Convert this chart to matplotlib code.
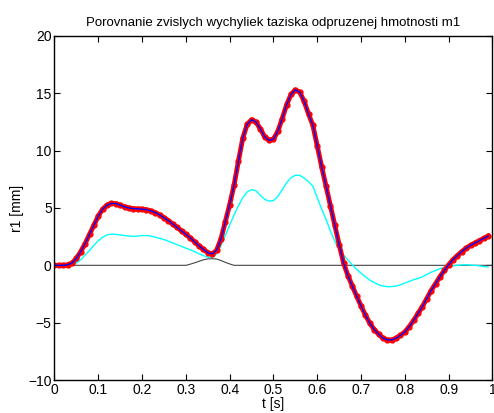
import matplotlib
matplotlib.use("Agg")
import matplotlib.pyplot as plt
import numpy as np

# time axis of the simulation (s)
t = np.arange(100) / 100

# r1 response, reference model (red dots + blue line)
r1_ref = [
    0.0, 0.0, 0.0, 0.05, 0.2, 0.6, 1.2, 1.9, 2.7, 3.5,
    4.3, 4.9, 5.25, 5.4, 5.38, 5.25, 5.1, 5.0, 4.95, 4.92,
    4.9, 4.85, 4.75, 4.6, 4.4, 4.15, 3.9, 3.6, 3.3, 3.0,
    2.7, 2.4, 2.05, 1.7, 1.4, 1.1, 1.0, 1.3, 2.3, 3.8,
    5.3, 7.0, 9.1, 11.1, 12.3, 12.7, 12.5, 11.9, 11.2, 10.9,
    11.0, 11.7, 12.8, 14.0, 14.9, 15.3, 15.1, 14.3, 13.2, 12.2,
    10.4, 8.6, 6.9, 5.2, 3.5, 1.8, 0.2, -0.9, -1.8, -2.7,
    -3.55, -4.35, -5.05, -5.6, -6.0, -6.35, -6.5, -6.5, -6.35, -6.1,
    -5.8, -5.35, -4.8, -4.2, -3.6, -2.9, -2.2, -1.6, -1.0, -0.45,
    0.05, 0.5, 0.85, 1.2, 1.5, 1.75, 1.95, 2.15, 2.35, 2.55,
]

# r1 response, second model (cyan)
r1_alt = [
    0.0, 0.0, 0.0, 0.0, 0.05, 0.2, 0.5, 0.9, 1.3, 1.75,
    2.15, 2.45, 2.65, 2.72, 2.7, 2.65, 2.6, 2.55, 2.52, 2.55,
    2.6, 2.6, 2.55, 2.45, 2.35, 2.25, 2.1, 1.95, 1.8, 1.65,
    1.5, 1.35, 1.2, 1.0, 0.85, 0.7, 0.7, 1.0, 1.7, 2.6,
    3.5, 4.4, 5.2, 5.9, 6.4, 6.6, 6.5, 6.1, 5.75, 5.6,
    5.65, 6.0, 6.6, 7.2, 7.65, 7.85, 7.85, 7.6, 7.3, 6.9,
    5.9, 4.9, 4.0, 3.0, 2.1, 1.4, 0.9, 0.45, 0.05, -0.35,
    -0.7, -1.0, -1.3, -1.5, -1.7, -1.8, -1.87, -1.85, -1.8, -1.7,
    -1.55, -1.4, -1.25, -1.15, -1.0, -0.8, -0.6, -0.45, -0.3, -0.2,
    -0.1, -0.05, 0.0, 0.03, 0.05, 0.02, 0.0, -0.05, -0.1, -0.15,
]

# road bump profile (black)
t_road = np.arange(101) / 100
road = np.zeros(101)
bump_idx = [30, 31, 32, 33, 34, 35, 36, 37, 38, 39, 40, 41]
bump_val = [0.0, 0.1, 0.22, 0.35, 0.48, 0.56, 0.58, 0.55, 0.42, 0.26, 0.12, 0.0]
road[bump_idx] = bump_val


def main():
    plt.rcParams['font.family'] = ['Liberation Sans', 'DejaVu Sans']
    fig = plt.figure(figsize=(4.94, 4.13), dpi=100)
    ax = fig.add_axes([0.1103, 0.0799, 0.8866, 0.833])

    ax.plot(t_road, road, color='#444444', lw=0.8)
    ax.plot(t, r1_alt, color='cyan', lw=1)
    ax.plot(t, r1_ref, color='red', lw=3.5, marker='.', ms=7)
    ax.plot(t, r1_ref, color='blue', lw=1)

    ax.set_xlim(0, 1)
    ax.set_ylim(-10, 20)
    ax.set_xticks(np.arange(0, 1.01, 0.1))
    ax.set_xticklabels(['0', '0.1', '0.2', '0.3', '0.4', '0.5', '0.6', '0.7', '0.8', '0.9', '1'])
    ax.set_yticks(np.arange(-10, 21, 5))
    ax.tick_params(direction='in', top=True, right=True, length=4, labelsize=10, pad=2)
    for s in ax.spines.values():
        s.set_linewidth(1)

    ax.set_title('Porovnanie zvislych wychyliek taziska odpruzenej hmotnosti m1', fontsize=9.5, pad=7)
    ax.set_xlabel('t [s]', fontsize=10, labelpad=0)
    ax.set_ylabel('r1 [mm]', fontsize=10, labelpad=3)

    fig.savefig('out.png', dpi=100)


if __name__ == "__main__":
    main()
